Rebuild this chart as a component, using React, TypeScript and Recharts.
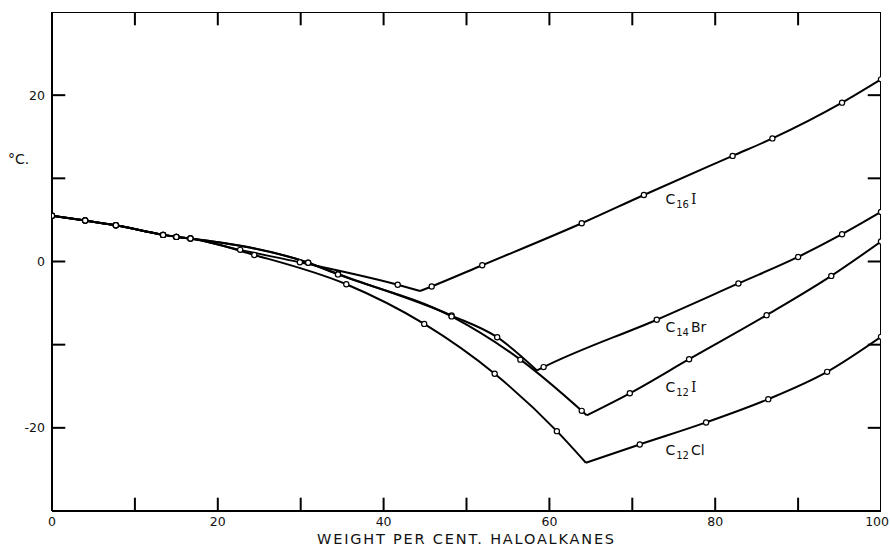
import React from 'react';
import { LineChart, Line, XAxis, YAxis, ReferenceDot, Label } from 'recharts';

type Pt = { w: number; t: number; m?: boolean }; // m: false = eutectic vertex, no observed point

// weight per cent haloalkane vs freezing point (°C)
const shared: Pt[] = [
  { w: 0, t: 5.5 },
  { w: 4, t: 4.93 },
  { w: 7.7, t: 4.36 },
  { w: 13.4, t: 3.2 },
  { w: 15, t: 2.96 },
  { w: 16.7, t: 2.76 },
];

const c16iLeft: Pt[] = [
  ...shared,
  { w: 22.7, t: 1.4 },
  { w: 29.9, t: -0.1 },
  { w: 41.7, t: -2.8 },
  { w: 44.4, t: -3.55, m: false },
];
const c16iRight: Pt[] = [
  { w: 44.4, t: -3.55, m: false },
  { w: 45.8, t: -3.0 },
  { w: 51.9, t: -0.45 },
  { w: 63.9, t: 4.6 },
  { w: 71.4, t: 8.0 },
  { w: 82.1, t: 12.7 },
  { w: 86.9, t: 14.8 },
  { w: 95.3, t: 19.1 },
  { w: 100, t: 21.9 },
];

const c14brLeft: Pt[] = [
  ...shared,
  { w: 30.9, t: -0.15 },
  { w: 34.5, t: -1.5 },
  { w: 48.2, t: -6.5 },
  { w: 53.7, t: -9.1 },
  { w: 58.5, t: -13.1, m: false },
];
const c14brRight: Pt[] = [
  { w: 58.5, t: -13.1, m: false },
  { w: 59.3, t: -12.7 },
  { w: 72.95, t: -7.0 },
  { w: 82.8, t: -2.64 },
  { w: 90, t: 0.55 },
  { w: 95.3, t: 3.28 },
  { w: 100, t: 5.96 },
];

const c12iLeft: Pt[] = [
  ...shared,
  { w: 30.9, t: -0.15 },
  { w: 34.5, t: -1.55 },
  { w: 48.2, t: -6.6 },
  { w: 56.5, t: -11.8 },
  { w: 63.9, t: -17.96 },
  { w: 64.5, t: -18.5, m: false },
];
const c12iRight: Pt[] = [
  { w: 64.5, t: -18.5, m: false },
  { w: 69.7, t: -15.85 },
  { w: 76.85, t: -11.75 },
  { w: 86.2, t: -6.45 },
  { w: 94, t: -1.73 },
  { w: 100, t: 2.4 },
];

const c12clLeft: Pt[] = [
  ...shared,
  { w: 24.4, t: 0.79 },
  { w: 35.5, t: -2.73 },
  { w: 44.9, t: -7.5 },
  { w: 53.4, t: -13.5 },
  { w: 60.9, t: -20.4 },
  { w: 64.4, t: -24.2, m: false },
];
const c12clRight: Pt[] = [
  { w: 64.4, t: -24.2, m: false },
  { w: 70.9, t: -22.0 },
  { w: 78.9, t: -19.35 },
  { w: 86.4, t: -16.55 },
  { w: 93.5, t: -13.27 },
  { w: 100, t: -9.06 },
];

const xTicks = [0, 10, 20, 30, 40, 50, 60, 70, 80, 90, 100];
const yTicks = [-20, -10, 0, 10, 20];

const branches = [c16iLeft, c16iRight, c14brLeft, c14brRight, c12iLeft, c12iRight, c12clLeft, c12clRight];

const FONT = '"DejaVu Sans", sans-serif';
const X_MIN = 0;
const X_MAX = 100;
const Y_MIN = -30;
const Y_MAX = 30;
const TICK_X = 1.6; // inward tick length in axis units (~13px)
const TICK_Y = 1.6;

// open circle only on measured points
const renderDot = (p: any) => {
  const key = `${p.dataKey}-${p.index}-${p.cx}`;
  if (p.payload?.m === false) return <g key={key} />;
  return <circle key={key} cx={p.cx} cy={p.cy} r={2.6} fill="#fff" stroke="#000" strokeWidth={1.2} />;
};

// labels every 20; the tick marks are drawn separately, pointing inward
const BottomTick = (p: any) => {
  const v = p.payload.value;
  if (v % 20 !== 0) return <g />;
  const last = v === X_MAX;
  return (
    <text
      x={last ? p.x + 8 : p.x}
      y={p.y + 15}
      textAnchor={last ? 'end' : 'middle'}
      fontFamily={FONT}
      fontSize={12.5}
      fill="#111"
    >
      {v}
    </text>
  );
};

const LeftTick = (p: any) => {
  const v = p.payload.value;
  if (v % 20 !== 0) return <g />;
  return (
    <text x={p.x - 7} y={p.y + 4.5} textAnchor="end" fontFamily={FONT} fontSize={12.5} fill="#111">
      {v}
    </text>
  );
};

// C + subscript + tail, anchored at a data point
const chemLabel = (sub: string, tail: string, serifTail: boolean) => (props: any) => {
  const vb = props.viewBox || {};
  return (
    <text x={vb.x} y={vb.y} fontFamily={FONT} fontSize={14} fill="#111">
      <tspan>C</tspan>
      <tspan fontSize={10} dy={4} dx={1}>{sub}</tspan>
      <tspan dy={-4} dx={2} fontFamily={serifTail ? '"DejaVu Serif", serif' : FONT}>{tail}</tspan>
    </text>
  );
};

const labels = [
  { sub: '16', tail: 'I', serif: true, w: 74, t: 6.9 },
  { sub: '14', tail: 'Br', serif: false, w: 74, t: -8.5 },
  { sub: '12', tail: 'I', serif: true, w: 74, t: -15.7 },
  { sub: '12', tail: 'Cl', serif: false, w: 74, t: -23.3 },
];

const frame = { stroke: '#000', strokeWidth: 2 };

const innerX = xTicks.filter((v) => v > X_MIN && v < X_MAX);
const tickMarks: Pt[][] = [
  ...innerX.map((v) => [{ w: v, t: Y_MIN }, { w: v, t: Y_MIN + TICK_Y }]),
  ...innerX.map((v) => [{ w: v, t: Y_MAX }, { w: v, t: Y_MAX - TICK_Y }]),
  ...yTicks.map((v) => [{ w: X_MIN, t: v }, { w: X_MIN + TICK_X, t: v }]),
  ...yTicks.map((v) => [{ w: X_MAX, t: v }, { w: X_MAX - TICK_X, t: v }]),
];
// top and right edges of the frame
const frameEdges: Pt[][] = [
  [{ w: X_MIN, t: Y_MAX }, { w: X_MAX, t: Y_MAX }],
  [{ w: X_MAX, t: Y_MIN }, { w: X_MAX, t: Y_MAX }],
];

export default function App() {
  return (
    <div style={{ position: 'absolute', left: 0, top: 0, width: 890, height: 550, background: '#fff' }}>
      <LineChart width={890} height={550} margin={{ top: 12, right: 9, bottom: 0, left: 0 }}>
        <XAxis
          xAxisId="b"
          type="number"
          dataKey="w"
          domain={[X_MIN, X_MAX]}
          ticks={xTicks}
          orientation="bottom"
          height={39}
          tickSize={0}
          tickMargin={0}
          axisLine={frame}
          tickLine={false}
          tick={BottomTick}
          interval={0}
          allowDataOverflow
        >
          <Label
            value="WEIGHT PER CENT. HALOALKANES"
            position="insideBottom"
            offset={6}
            style={{ fontFamily: FONT, fontSize: 14.5, letterSpacing: 1.8, fill: '#111' }}
          />
        </XAxis>
        <YAxis
          yAxisId="l"
          type="number"
          domain={[Y_MIN, Y_MAX]}
          ticks={yTicks}
          orientation="left"
          width={52}
          tickSize={0}
          tickMargin={0}
          axisLine={frame}
          tickLine={false}
          tick={LeftTick}
          interval={0}
          allowDataOverflow
        >
          <Label
            content={() => (
              <text x={8} y={164} fontFamily={FONT} fontSize={14} fill="#111">
                °C.
              </text>
            )}
          />
        </YAxis>
        {[...frameEdges, ...tickMarks].map((d, i) => (
          <Line
            key={`tk-${i}`}
            xAxisId="b"
            yAxisId="l"
            data={d}
            dataKey="t"
            type="linear"
            stroke="#000"
            strokeWidth={2}
            strokeLinecap="butt"
            dot={false}
            activeDot={false}
            isAnimationActive={false}
          />
        ))}
        {branches.map((d, i) => (
          <Line
            key={`br-${i}`}
            xAxisId="b"
            yAxisId="l"
            data={d}
            dataKey="t"
            type="monotone"
            stroke="#000"
            strokeWidth={2}
            dot={renderDot}
            activeDot={false}
            isAnimationActive={false}
          />
        ))}
        {labels.map((l, i) => (
          <ReferenceDot
            key={`lab-${i}`}
            xAxisId="b"
            yAxisId="l"
            x={l.w}
            y={l.t}
            r={0}
            stroke="none"
            fill="none"
            label={chemLabel(l.sub, l.tail, l.serif)}
          />
        ))}
      </LineChart>
    </div>
  );
}
